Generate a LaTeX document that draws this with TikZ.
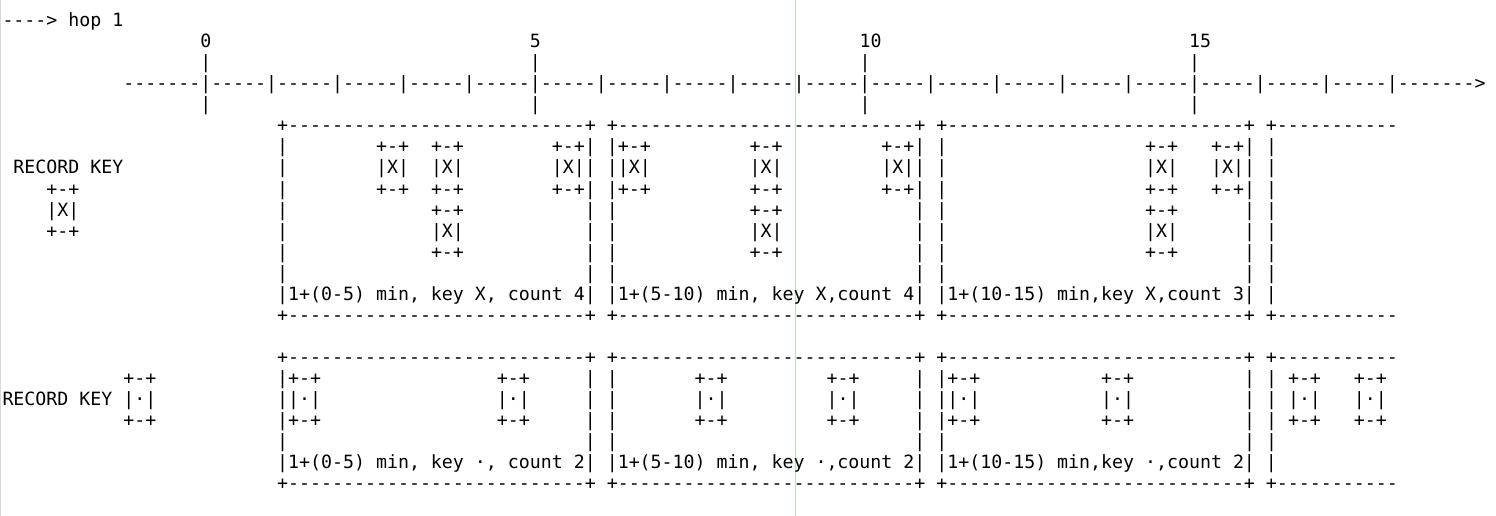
\documentclass[tikz,border=0pt]{standalone}
\usepackage{fontspec}
\setmonofont{DejaVu Sans Mono}
\ExplSyntaxOn
\NewDocumentCommand\AsSp{m}{\prg_replicate:nn{#1}{\nobreakspace}}
\NewDocumentCommand\AsDs{m}{\prg_replicate:nn{#1}{-\kern0pt}}
\NewDocumentCommand\AsRp{mm}{\prg_replicate:nn{#1}{#2}}
\ExplSyntaxOff
\newcommand\AsBorder{\AsSp{25}+\AsDs{27}+~+\AsDs{27}+~+\AsDs{27}+~+\AsDs{11}}
\newcommand\AsTicks{\AsSp{18}|\AsSp{29}|\AsSp{29}|\AsSp{29}|}
\definecolor{guide}{RGB}{184,232,184}
\definecolor{edge}{RGB}{215,215,215}
\begin{document}
\begin{tikzpicture}[x=1pt, y=-21.05pt,
  asciirow/.style={anchor=base west, inner sep=0pt, outer sep=0pt,
    font=\ttfamily\fontsize{18.25}{21}\selectfont\frenchspacing, text=black}]
\useasboundingbox (0,0) rectangle (1496,24.513);
\fill[white] (0,0) rectangle (1496,24.513);
\draw[edge, line width=1pt] (0.5,0) coordinate (e0) -- (0.5,24.513) coordinate (e1);
\draw[guide, line width=1pt] (795.5,0) coordinate (g0) -- (795.5,24.513) coordinate (g1);
\node[asciirow] (r0)  at (2.5,1.264) {\AsDs{4}>~hop~1};
\node[asciirow] (r1)  at (2.5,2.264) {\AsSp{18}0\AsSp{29}5\AsSp{29}10\AsSp{28}15};
\node[asciirow] (r2)  at (2.5,3.264) {\AsTicks};
\node[asciirow] (r3)  at (2.5,4.264) {\AsSp{11}\AsDs{7}\AsRp{18}{|\AsDs{5}}|\AsDs{7}>};
\node[asciirow] (r4)  at (2.5,5.264) {\AsTicks};
\node[asciirow] (r5)  at (2.5,6.264) {\AsBorder};
\node[asciirow] (r6)  at (2.5,7.264) {\AsSp{25}|\AsSp{8}+-+\AsSp{2}+-+\AsSp{8}+-+|~|+-+\AsSp{9}+-+\AsSp{9}+-+|~|\AsSp{18}+-+\AsSp{3}+-+|~|};
\node[asciirow] (r7)  at (2.5,8.264) {~RECORD~KEY\AsSp{14}|\AsSp{8}|X|\AsSp{2}|X|\AsSp{8}|X||~||X|\AsSp{9}|X|\AsSp{9}|X||~|\AsSp{18}|X|\AsSp{3}|X||~|};
\node[asciirow] (r8)  at (2.5,9.264) {\AsSp{4}+-+\AsSp{18}|\AsSp{8}+-+\AsSp{2}+-+\AsSp{8}+-+|~|+-+\AsSp{9}+-+\AsSp{9}+-+|~|\AsSp{18}+-+\AsSp{3}+-+|~|};
\node[asciirow] (r9)  at (2.5,10.264) {\AsSp{4}|X|\AsSp{18}|\AsSp{13}+-+\AsSp{11}|~|\AsSp{12}+-+\AsSp{12}|~|\AsSp{18}+-+\AsSp{6}|~|};
\node[asciirow] (r10) at (2.5,11.264) {\AsSp{4}+-+\AsSp{18}|\AsSp{13}|X|\AsSp{11}|~|\AsSp{12}|X|\AsSp{12}|~|\AsSp{18}|X|\AsSp{6}|~|};
\node[asciirow] (r11) at (2.5,12.264) {\AsSp{25}|\AsSp{13}+-+\AsSp{11}|~|\AsSp{12}+-+\AsSp{12}|~|\AsSp{18}+-+\AsSp{6}|~|};
\node[asciirow] (r12) at (2.5,13.264) {\AsSp{25}|\AsSp{27}|~|\AsSp{27}|~|\AsSp{27}|~|};
\node[asciirow] (r13) at (2.5,14.264) {\AsSp{25}|1+(0-5)~min,~key~X,~count~4|~|1+(5-10)~min,~key~X,count~4|~|1+(10-15)~min,key~X,count~3|~|};
\node[asciirow] (r14) at (2.5,15.264) {\AsBorder};
\node[asciirow] (r16) at (2.5,17.264) {\AsBorder};
\node[asciirow] (r17) at (2.5,18.264) {\AsSp{11}+-+\AsSp{11}|+-+\AsSp{16}+-+\AsSp{5}|~|\AsSp{7}+-+\AsSp{9}+-+\AsSp{5}|~|+-+\AsSp{11}+-+\AsSp{10}|~|~+-+\AsSp{3}+-+};
\node[asciirow] (r18) at (2.5,19.264) {RECORD~KEY~|·|\AsSp{11}||·|\AsSp{16}|·|\AsSp{5}|~|\AsSp{7}|·|\AsSp{9}|·|\AsSp{5}|~||·|\AsSp{11}|·|\AsSp{10}|~|~|·|\AsSp{3}|·|};
\node[asciirow] (r19) at (2.5,20.264) {\AsSp{11}+-+\AsSp{11}|+-+\AsSp{16}+-+\AsSp{5}|~|\AsSp{7}+-+\AsSp{9}+-+\AsSp{5}|~|+-+\AsSp{11}+-+\AsSp{10}|~|~+-+\AsSp{3}+-+};
\node[asciirow] (r20) at (2.5,21.264) {\AsSp{25}|\AsSp{27}|~|\AsSp{27}|~|\AsSp{27}|~|};
\node[asciirow] (r21) at (2.5,22.264) {\AsSp{25}|1+(0-5)~min,~key~·,~count~2|~|1+(5-10)~min,~key~·,count~2|~|1+(10-15)~min,key~·,count~2|~|};
\node[asciirow] (r22) at (2.5,23.264) {\AsBorder};
\end{tikzpicture}
\end{document}
